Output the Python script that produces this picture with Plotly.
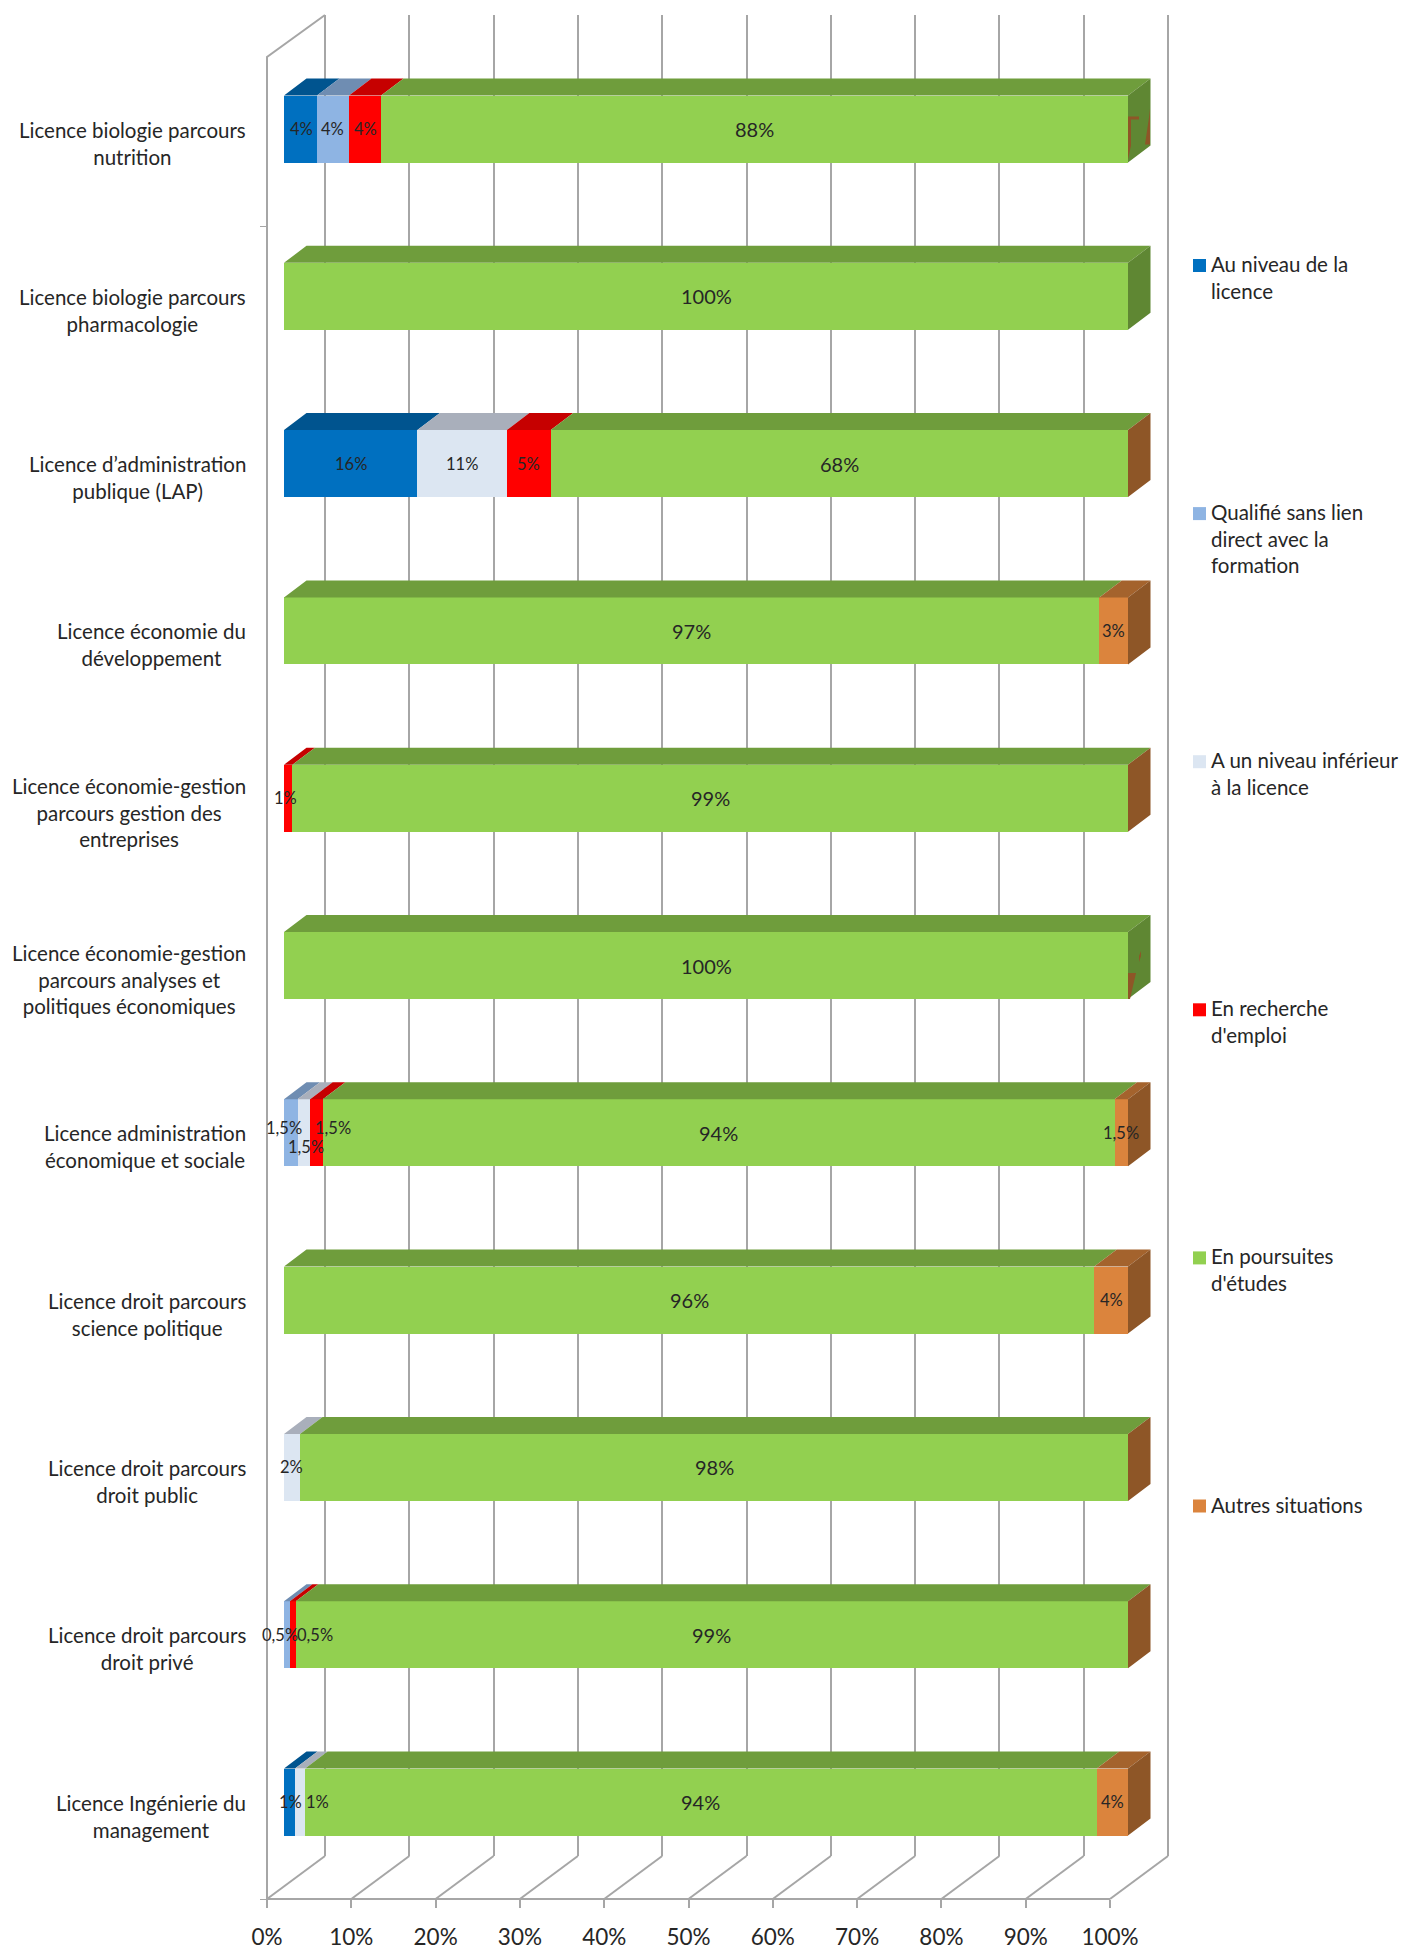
import plotly.graph_objects as go

W, H = 1402, 1952

categories = [
    "Licence biologie parcours<br>nutrition",
    "Licence biologie parcours<br>pharmacologie",
    "Licence d’administration<br>publique (LAP)",
    "Licence économie du<br>développement",
    "Licence économie-gestion<br>parcours gestion des<br>entreprises",
    "Licence économie-gestion<br>parcours analyses et<br>politiques économiques",
    "Licence administration<br>économique et sociale",
    "Licence droit parcours<br>science politique",
    "Licence droit parcours<br>droit public",
    "Licence droit parcours<br>droit privé",
    "Licence Ingénierie du<br>management",
]
series_names = [
    "Au niveau de la<br>licence",
    "Qualifié sans lien<br>direct avec la<br>formation",
    "A un niveau inférieur<br>à la licence",
    "En recherche<br>d'emploi",
    "En poursuites<br>d'études",
    "Autres situations",
]
au_niveau = [3.9, 0, 15.8, 0, 0, 0, 0, 0, 0, 0, 1.3]
qualifie = [3.8, 0, 0, 0, 0, 0, 1.6, 0, 0, 0.7, 0]
inferieur = [0, 0, 10.6, 0, 0, 0, 1.5, 0, 1.9, 0, 1.2]
recherche = [3.8, 0, 5.2, 0, 1.0, 0, 1.5, 0, 0, 0.7, 0]
poursuites = [88.5, 100, 68.4, 96.6, 99.0, 100, 93.8, 96.0, 98.1, 98.6, 93.8]
autres = [0, 0, 0, 3.4, 0, 0, 1.6, 4.0, 0, 0, 3.7]
series_values = [au_niveau, qualifie, inferieur, recherche, poursuites, autres]

lab_au = ["4%", "", "16%", "", "", "", "", "", "", "", "1%"]
lab_qu = ["4%", "", "", "", "", "", "1,5%", "", "", "0,5%", ""]
lab_in = ["", "", "11%", "", "", "", "1,5%", "", "2%", "", "1%"]
lab_re = ["4%", "", "5%", "", "1%", "", "1,5%", "", "", "0,5%", ""]
lab_po = ["88%", "100%", "68%", "97%", "99%", "100%", "94%", "96%", "98%", "99%", "94%"]
lab_au2 = ["", "", "", "3%", "", "", "1,5%", "4%", "", "", "4%"]
series_labels = [lab_au, lab_qu, lab_in, lab_re, lab_po, lab_au2]

x_ticks = list(range(0, 101, 10))
x_tick_text = [f"{t}%" for t in x_ticks]

front = ["#0070C0", "#8EB4E3", "#DCE6F2", "#FF0000", "#92D050", "#DB843D"]
top = ["#00548F", "#6F8DB2", "#A9AFBB", "#C60000", "#6F9D3C", "#A4632D"]
side_green = "#5F8733"
side_brown = "#8E5627"
green_side_rows = {0, 1, 5}
GRID = "#A6A6A6"
TEXT = "#262626"

# label nudges in pixels (row, series): (dx, dy)
nudges = {
    (0, 0): (1, 0),
    (4, 3): (-3, 0),
    (6, 1): (-7, -5), (6, 2): (2, 14), (6, 3): (17, -5), (6, 5): (0, 0),
    (8, 2): (-1, 0),
    (9, 1): (-7, 0), (9, 3): (22, 0),
    (10, 0): (1, 0), (10, 2): (17, 0),
}
# small brown rendering flecks on the green side faces: (row, [(dx px, dy px from top-front corner)...])
flecks = [
    (0, [(0, 21), (11, 21), (11, 24), (3, 24), (3, 50), (0, 64)]),
    (0, [(21, 22), (22, 13), (22, 49), (17, 49)]),
    (5, [(0, 41), (8, 41), (2, 67), (0, 67)]),
    (5, [(11, 24), (13, 19), (13, 24), (11, 30)]),
]
lab_small = 16.5
lab_big = 20
FS = 20.5


def pxx(v):
    return v / W


def pxy(v):
    return 1 - v / H


n = len(categories)
rows = list(range(n))
fig = go.Figure()

BAR_X0 = 284.0
BAR_SPAN = 8.44      # px per 1 %
PITCH = 167.3
ROW0 = 129.0
DX = 22.5 / BAR_SPAN
DY = 17.0 / PITCH
HALF = 33.5 / PITCH

FLOOR_X0, FLOOR_Y = 267.0, 1899.0
FLOOR_SPAN = 8.43
BACK_X0 = 325.0

fig.add_trace(go.Scatter(x=[0], y=[0], mode="markers", marker_opacity=0, showlegend=False,
                         hoverinfo="skip", xaxis="x", yaxis="y"))

# floor and left wall (y2 is in px above the floor)
fx, fy = [0, 100, None], [0, 0, None]
FDX, FDY = 58.0 / FLOOR_SPAN, 43.0
for t in x_ticks:
    fx += [t, t + FDX, None]
    fy += [0, FDY, None]
fx += [0, 0, FDX]
fy += [0, 1842, 1884]
fig.add_trace(go.Scatter(x=fx, y=fy, mode="lines", line=dict(color=GRID, width=2),
                         showlegend=False, hoverinfo="skip", xaxis="x2", yaxis="y2"))

# front faces
for name, vals, col in zip(series_names, series_values, front):
    fig.add_trace(go.Bar(x=vals, y=rows, orientation="h", width=2 * HALF, name=name.replace("<br>", " "),
                         marker=dict(color=col, line=dict(width=0)), showlegend=False,
                         xaxis="x3", yaxis="y3"))

# top faces
cum = [0.0] * n
for vals, col in zip(series_values, top):
    xs, ys = [], []
    for r in rows:
        if vals[r] > 0:
            c0, c1 = cum[r], cum[r] + vals[r]
            t0 = r - HALF
            xs += [c0, c1, c1 + DX, c0 + DX, c0, None]
            ys += [t0, t0, t0 - DY, t0 - DY, t0, None]
            cum[r] = c1
    fig.add_trace(go.Scatter(x=xs, y=ys, mode="lines", fill="toself", fillcolor=col,
                             line=dict(width=0), showlegend=False, hoverinfo="skip",
                             xaxis="x3", yaxis="y3"))

# side faces
for group, col in (([r for r in rows if r in green_side_rows], side_green),
                   ([r for r in rows if r not in green_side_rows], side_brown)):
    xs, ys = [], []
    for r in group:
        t0, b0 = r - HALF, r + HALF
        xs += [100, 100, 100 + DX, 100 + DX, 100, None]
        ys += [t0, b0, b0 - DY, t0 - DY, t0, None]
    fig.add_trace(go.Scatter(x=xs, y=ys, mode="lines", fill="toself", fillcolor=col,
                             line=dict(width=0), showlegend=False, hoverinfo="skip",
                             xaxis="x3", yaxis="y3"))

xs, ys = [], []
for r, poly in flecks:
    for dx, dy in poly + poly[:1]:
        xs.append(100 + dx / BAR_SPAN)
        ys.append(r - HALF + dy / PITCH)
    xs.append(None)
    ys.append(None)
fig.add_trace(go.Scatter(x=xs, y=ys, mode="lines", fill="toself", fillcolor=side_brown,
                         line=dict(width=0), showlegend=False, hoverinfo="skip",
                         xaxis="x3", yaxis="y3"))

annotations = []
cum = [0.0] * n
for s, (vals, labs) in enumerate(zip(series_values, series_labels)):
    for r in rows:
        mid = cum[r] + vals[r] / 2
        cum[r] += vals[r]
        if labs[r]:
            dx, dy = nudges.get((r, s), (0, 0))
            size = lab_big if s == 4 else lab_small
            annotations.append(dict(x=mid, y=r, xref="x3", yref="y3", text=labs[r], showarrow=False,
                                    xshift=dx, yshift=-dy, font=dict(size=size, color=TEXT)))

for r, cat in enumerate(categories):
    annotations.append(dict(xref="paper", x=pxx(248), yref="y3", y=r, yshift=-14, text=cat, showarrow=False,
                            xanchor="right", align="center", font=dict(size=FS, color=TEXT)))

LEG_X = 1193
LEG_Y0 = 265.5
LEG_STEP = 248.1
shapes = []
for i, (name, col) in enumerate(zip(series_names, front)):
    yy = LEG_Y0 + i * LEG_STEP
    shapes.append(dict(type="rect", xref="paper", yref="paper", x0=pxx(LEG_X), x1=pxx(LEG_X + 13),
                       y0=pxy(yy - 6.5), y1=pxy(yy + 6.5), fillcolor=col, line=dict(width=0)))
    annotations.append(dict(xref="paper", yref="paper", x=pxx(LEG_X + 16), y=pxy(yy - 15.5), text=name,
                            showarrow=False, xanchor="left", yanchor="top", align="left",
                            font=dict(size=FS, color=TEXT)))

layout = dict(
    width=W, height=H, margin=dict(l=0, r=0, t=0, b=0, pad=0, autoexpand=False), autosize=False,
    paper_bgcolor="white", plot_bgcolor="rgba(0,0,0,0)",
    barmode="stack", bargap=0, showlegend=False, font=dict(family="Lato, Carlito, sans-serif"),
    shapes=shapes, annotations=annotations,
    xaxis=dict(domain=[0, 1], range=[-BACK_X0 / FLOOR_SPAN, (W - BACK_X0) / FLOOR_SPAN],
               tickvals=x_ticks, showticklabels=False, ticks="", showgrid=True,
               gridcolor=GRID, gridwidth=2, zeroline=False, anchor="y", showline=False),
    yaxis=dict(domain=[pxy(1856), pxy(15)], range=[0, 1], visible=False, anchor="x"),
    xaxis2=dict(domain=[0, 1], range=[-FLOOR_X0 / FLOOR_SPAN, (W - FLOOR_X0) / FLOOR_SPAN],
                tickvals=x_ticks, ticktext=x_tick_text, ticks="outside", ticklen=8,
                tickcolor=GRID, tickwidth=2, showline=False, showgrid=False, zeroline=False,
                anchor="free", position=pxy(FLOOR_Y),
                tickfont=dict(size=22.5, color=TEXT), ticklabelstandoff=10),
    yaxis2=dict(domain=[0, 1], range=[FLOOR_Y - H, FLOOR_Y], tickvals=[0, 1673], ticks="outside", ticklen=7,
                tickcolor=GRID, tickwidth=1, showticklabels=False, showgrid=False, zeroline=False,
                showline=False, anchor="free", position=pxx(FLOOR_X0)),
    xaxis3=dict(domain=[0, 1], range=[-BAR_X0 / BAR_SPAN, (W - BAR_X0) / BAR_SPAN], visible=False, anchor="y3"),
    yaxis3=dict(domain=[0, 1], range=[(H - ROW0) / PITCH, -ROW0 / PITCH], visible=False, anchor="x3"),
)
fig.update_layout(**layout)
fig.write_html("out.html", post_script="document.body.style.margin='0';",
               config=dict(displayModeBar=False))
